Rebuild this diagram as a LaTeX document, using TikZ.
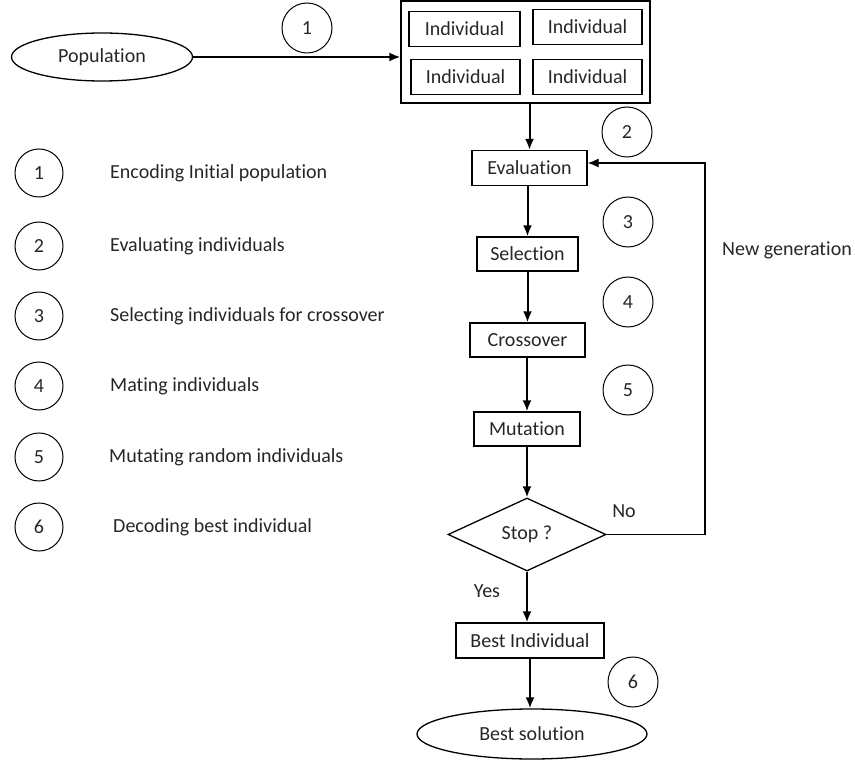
\documentclass[tikz,border=0pt]{standalone}
\usepackage{fontspec}
\setmainfont{Carlito}[RawFeature={-liga;-clig;-calt;-dlig}]
\usetikzlibrary{arrows.meta,shapes.geometric}
\begin{document}
\begin{tikzpicture}[x=1pt,y=-1pt,
  every node/.style={font=\fontsize{20}{22}\selectfont, text=black!85},
  box/.style={draw, line width=1.3pt, rectangle, inner sep=0pt},
  oval/.style={draw, line width=1.3pt, ellipse, inner sep=0pt},
  num/.style={draw, line width=1pt, circle, minimum size=50pt, inner sep=0pt},
  legend/.style={anchor=west, inner sep=0pt},
  arr/.style={line width=2pt, -{Latex[length=11pt,width=9pt]}},
  line/.style={line width=1.3pt}]
\useasboundingbox (0,0) rectangle (855,762);
% Population
\node[oval, minimum width=181pt, minimum height=48pt] (pop) at (102,57) {Population};
\node[box, minimum width=249pt, minimum height=102pt] (outer) at (525.5,52) {};
\node[box, minimum width=111pt, minimum height=35pt] (i1) at (464.5,29) {Individual};
\node[box, minimum width=109pt, minimum height=35pt] (i2) at (587.5,27) {Individual};
\node[box, minimum width=109pt, minimum height=35pt] (i3) at (465.5,77) {Individual};
\node[box, minimum width=109pt, minimum height=35pt] (i4) at (587.5,77) {Individual};
\node[num] (c1) at (307,28) {1};
\draw[arr] (pop.east) -- (pop.east -| outer.west);
% flow
\node[box, minimum width=115pt, minimum height=35pt] (eval) at (529.5,168) {Evaluation};
\node[box, minimum width=101pt, minimum height=34pt] (sel) at (527.5,254) {Selection};
\node[box, minimum width=115pt, minimum height=34pt] (cross) at (527.5,340) {Crossover};
\node[box, minimum width=106pt, minimum height=34pt] (mut) at (527,429) {Mutation};
\node[draw, line width=1.3pt, diamond, minimum width=158pt, minimum height=73pt, inner sep=0pt] (stop) at (527,534.5) {Stop ?};
\node[box, minimum width=148pt, minimum height=35pt] (best) at (530,640.5) {Best Individual};
\node[oval, minimum width=230pt, minimum height=50pt] (sol) at (532,734) {Best solution};
\node[num] (c2) at (627,132) {2};
\node[num] (c3) at (628,222) {3};
\node[num] (c4) at (628,302) {4};
\node[num] (c5) at (628,390) {5};
\node[num] (c6) at (633,682) {6};
\draw[arr] (eval.north |- outer.south) -- (eval.north);
\draw[arr] (sel.north |- eval.south) -- (sel.north);
\draw[arr] (cross.north |- sel.south) -- (cross.north);
\draw[arr] (mut.north |- cross.south) -- (mut.north);
\draw[arr] (mut.south) -- (mut.south |- stop.north);
\draw[arr] (stop.south) -- (stop.south |- best.north);
\draw[arr] (best.south) -- (best.south |- sol.north);
\coordinate (loop) at (705,534.5);
\draw[line, -{Latex[length=11pt,width=9pt]}] (stop.east) -- (loop) |- ([yshift=5pt]eval.east);
\node (no) at (624,511) {No};
\node (yes) at (487,591) {Yes};
\node (newgen) at (787,250) {New generation};
% legend
\node[num, minimum size=48pt] (l1) at (39,173) {1};
\node[num, minimum size=48pt] (l2) at (39,246) {2};
\node[num, minimum size=48pt] (l3) at (39,316) {3};
\node[num, minimum size=48pt] (l4) at (39,386) {4};
\node[num, minimum size=48pt] (l5) at (39,457) {5};
\node[num, minimum size=48pt] (l6) at (39,527) {6};
\node[legend] (t1) at (110,173) {Encoding Initial population};
\node[legend] (t2) at (110,246) {Evaluating individuals};
\node[legend] (t3) at (110,316) {Selecting individuals for crossover};
\node[legend] (t4) at (110,386) {Mating individuals};
\node[legend] (t5) at (109,457) {Mutating random individuals};
\node[legend] (t6) at (113,527) {Decoding best individual};
\end{tikzpicture}
\end{document}
